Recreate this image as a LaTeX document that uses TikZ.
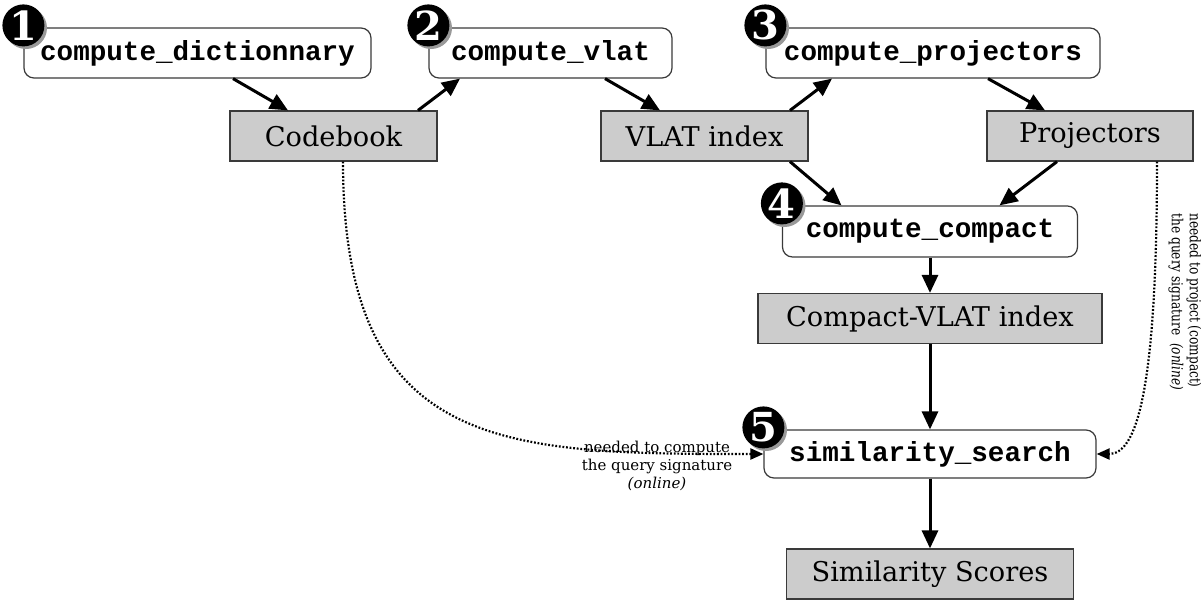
\documentclass[tikz,border=0pt]{standalone}
\usepackage{fontspec}
\setmainfont{DejaVu Serif}
\setmonofont{Liberation Mono}
\newfontfamily\narrowserif[FakeStretch=0.8]{DejaVu Serif}
\usetikzlibrary{arrows.meta,shadows}
\definecolor{boxgray}{HTML}{CCCCCC}
\definecolor{edgegray}{HTML}{3A3A3A}

\begin{document}
\begin{tikzpicture}[x=0.5pt,y=-0.5pt,
 stepbox/.style={draw=edgegray,line width=0.6pt,rounded corners=5pt,fill=white,minimum height=25pt,inner sep=0pt,font=\fontsize{13.8}{16}\selectfont\ttfamily\bfseries},
 databox/.style={draw=edgegray,line width=0.6pt,fill=boxgray,minimum height=25pt,inner sep=0pt,font=\fontsize{13.6}{16}\selectfont},
 numdot/.style={circle,fill=black,text=white,minimum size=21pt,inner sep=0pt,font=\fontsize{20}{20}\selectfont\bfseries,drop shadow={shadow xshift=1.3pt,shadow yshift=-1.3pt,fill=black!40,opacity=1}},
 flow/.style={-{Triangle[length=9pt,width=8pt]},line width=1.5pt},
 hint/.style={-{Triangle[length=6.5pt,width=5.5pt]},line width=1.1pt,dash pattern=on 0.9pt off 0.9pt},
 note/.style={font=\fontsize{7.5}{9}\selectfont}]
\useasboundingbox (0,0) rectangle (1201,601);
% steps and data
\node[stepbox,minimum width=173.5pt] (dict) at (197.5,53) {compute\_dictionnary};
\node[stepbox,minimum width=121.5pt] (vlat) at (550.5,53) {compute\_vlat};
\node[stepbox,minimum width=167pt] (proj) at (933,53) {compute\_projectors};
\node[databox,minimum width=103.5pt] (codebook) at (333.5,136) {Codebook};
\node[databox,minimum width=103.5pt] (vlatidx) at (704.5,136) {VLAT index};
\node[databox,minimum width=103pt] (projectors) at (1090,136) {Projectors};
\node[stepbox,minimum width=147.5pt,minimum height=25.5pt] (compact) at (930,231.5) {compute\_compact};
\node[databox,minimum width=172pt] (compactidx) at (930,318.5) {Compact-VLAT index};
\node[stepbox,minimum width=166pt,minimum height=24pt] (simsearch) at (930,454) {similarity\_search};
\node[databox,minimum width=143.5pt] (scores) at (930,574) {Similarity Scores};
\foreach \stp/\k in {dict/1,vlat/2,proj/3,compact/4,simsearch/5}
 \node[numdot] (dot\k) at ([shift={(0,-2)}]\stp.north west) {\k};
% main flow
\draw[flow] ([shift={(35.5,0)}]dict.south) -- ([shift={(-45.5,0)}]codebook.north);
\draw[flow] ([shift={(84.5,0)}]codebook.north) -- ([shift={(-90.5,0)}]vlat.south);
\draw[flow] ([shift={(54.5,0)}]vlat.south) -- ([shift={(-44.5,0)}]vlatidx.north);
\draw[flow] ([shift={(85.5,0)}]vlatidx.north) -- ([shift={(-101,0)}]proj.south);
\draw[flow] ([shift={(55,0)}]proj.south) -- ([shift={(-45,0)}]projectors.north);
\draw[flow] ([shift={(85.5,0)}]vlatidx.south) -- ([shift={(-88.5,0)}]compact.north);
\draw[flow] ([shift={(-33,0)}]projectors.south) -- ([shift={(69.5,0)}]compact.north);
\draw[flow] (compact) -- (compactidx);
\draw[flow] (compactidx) -- (simsearch);
\draw[flow] (simsearch) -- (scores);
% online use
\draw[hint] ([shift={(9.5,0)}]codebook.south) .. controls +(0,290) and +(-260,0) .. (simsearch.west);
\draw[hint] ([shift={(67,0)}]projectors.south) .. controls +(0,230) and +(40,0) .. (simsearch.east);
\node[note,align=center] (querynote) at (657,466) {needed to compute\\the query signature\\\textit{(online)}};
\node[note,align=left,rotate=-90,font=\narrowserif\fontsize{7.6}{9}\selectfont] (projnote) at (1185,302) {needed to project (compact)\\the query signature\ \ \textit{(online)}};
\end{tikzpicture}
\end{document}
